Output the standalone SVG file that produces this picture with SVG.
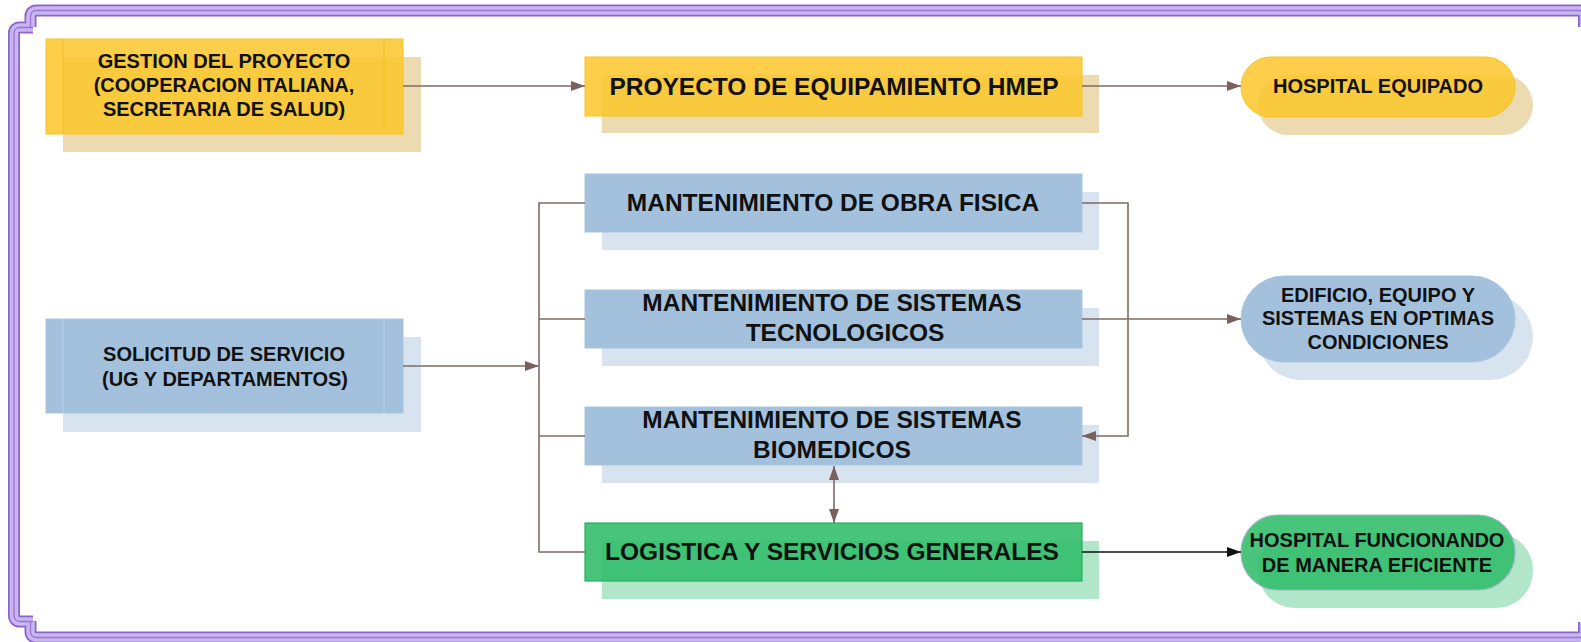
<svg xmlns="http://www.w3.org/2000/svg" width="1581" height="642" viewBox="0 0 1581 642">
<defs>
<marker id="ah" markerWidth="14" markerHeight="10" refX="14" refY="5" orient="auto-start-reverse" markerUnits="userSpaceOnUse">
<path d="M0,0 L14,5 L0,10 z" fill="#7a625c"/>
</marker>
<marker id="ahk" markerWidth="14" markerHeight="10" refX="14" refY="5" orient="auto" markerUnits="userSpaceOnUse">
<path d="M0,0 L14,5 L0,10 z" fill="#111111"/>
</marker>
<style>
.fb{fill:none;stroke:#8f63cf;stroke-width:12}
.fl{fill:none;stroke:#c8b6ee;stroke-width:8.5}
.fm{fill:none;stroke:#9a72d6;stroke-width:1.3}
.shY{fill:#ecdab0}
.shB{fill:#d7e3ee}
.shG{fill:#b1e6c9}
.bY{fill:#fbc52a;fill-opacity:0.85;stroke:#f7c21c;stroke-width:1}
.bB{fill:#a3c1dc;stroke:#a9c5de;stroke-width:1}
.bG{fill:#2fbd69;fill-opacity:0.88;stroke:#27b060;stroke-width:1.2}
.barY{stroke:#f5c12a;stroke-width:1.2}
.barB{stroke:#b6cee4;stroke-width:1.2}
.t{font-family:"Liberation Sans",Arial,sans-serif;font-weight:bold;fill:#111111;text-anchor:middle}
.s20{font-size:20px}
.s24{font-size:24.5px}
.c{fill:none;stroke:#7f6a65;stroke-width:1.6}
</style>
</defs>
<rect width="1581" height="642" fill="#ffffff"/>
<g id="frame">
<path class="fb" d="M1600,10.5 H36 A5.5,5.5 0 0 0 30.5,16 V27"/>
<path class="fb" d="M33,27.5 H19.5 A5.5,5.5 0 0 0 14,33 V616 A5.5,5.5 0 0 0 19.5,621.5 H33"/>
<path class="fb" d="M30.5,621 V632 A5.5,5.5 0 0 0 36,637.5 H1600"/>
<path class="fb" d="M1584,10 V27"/>
<path class="fb" d="M1584,622 V645"/>
<path class="fl" d="M1600,10.5 H36 A5.5,5.5 0 0 0 30.5,16 V27"/>
<path class="fl" d="M33,27.5 H19.5 A5.5,5.5 0 0 0 14,33 V616 A5.5,5.5 0 0 0 19.5,621.5 H33"/>
<path class="fl" d="M30.5,621 V632 A5.5,5.5 0 0 0 36,637.5 H1600"/>
<path class="fl" d="M1584,10 V27"/>
<path class="fl" d="M1584,622 V645"/>
<path class="fm" d="M1600,10.5 H36 A5.5,5.5 0 0 0 30.5,16 V27"/>
<path class="fm" d="M33,27.5 H19.5 A5.5,5.5 0 0 0 14,33 V616 A5.5,5.5 0 0 0 19.5,621.5 H33"/>
<path class="fm" d="M30.5,621 V632 A5.5,5.5 0 0 0 36,637.5 H1600"/>
</g>
<g id="gestion">
<rect class="shY" x="63" y="57" width="358" height="95"/>
<rect class="bY" x="46" y="39" width="357" height="95"/>
<line class="barY" x1="63" y1="39" x2="63" y2="134"/>
<line class="barY" x1="384" y1="39" x2="384" y2="134"/>
<text class="t s20" x="224" y="68">GESTION DEL PROYECTO</text>
<text class="t s20" x="224" y="92">(COOPERACION ITALIANA,</text>
<text class="t s20" x="224" y="116">SECRETARIA DE SALUD)</text>
</g>
<g id="proyecto">
<rect class="shY" x="602" y="75" width="497" height="58"/>
<rect class="bY" x="585" y="57" width="497" height="59"/>
<text class="t s24" x="834" y="95">PROYECTO DE EQUIPAMIENTO HMEP</text>
</g>
<g id="hospital-equipado">
<rect class="shY" x="1258" y="75" width="275" height="60" rx="30"/>
<rect class="bY" x="1241" y="57" width="274" height="60" rx="30"/>
<text class="t s20" x="1378" y="93">HOSPITAL EQUIPADO</text>
</g>
<g id="solicitud">
<rect class="shB" x="63" y="337" width="358" height="95"/>
<rect class="bB" x="46" y="319" width="357" height="94"/>
<line class="barB" x1="63" y1="319" x2="63" y2="413"/>
<line class="barB" x1="384" y1="319" x2="384" y2="413"/>
<text class="t s20" x="224" y="361">SOLICITUD DE SERVICIO</text>
<text class="t s20" x="225" y="386">(UG Y DEPARTAMENTOS)</text>
</g>
<g id="obra-fisica">
<rect class="shB" x="602" y="192" width="497" height="58"/>
<rect class="bB" x="585" y="174" width="497" height="58"/>
<text class="t s24" x="833" y="211">MANTENIMIENTO DE OBRA FISICA</text>
</g>
<g id="tecnologicos">
<rect class="shB" x="602" y="308" width="497" height="58"/>
<rect class="bB" x="585" y="290" width="497" height="58"/>
<text class="t s24" x="832" y="311">MANTENIMIENTO DE SISTEMAS</text>
<text class="t s24" x="845" y="341">TECNOLOGICOS</text>
</g>
<g id="biomedicos">
<rect class="shB" x="602" y="425" width="497" height="58"/>
<rect class="bB" x="585" y="407" width="497" height="58"/>
<text class="t s24" x="832" y="428">MANTENIMIENTO DE SISTEMAS</text>
<text class="t s24" x="832" y="458">BIOMEDICOS</text>
</g>
<g id="logistica">
<rect class="shG" x="602" y="541" width="497" height="58"/>
<rect class="bG" x="585" y="523" width="497" height="58"/>
<text class="t s24" x="832" y="560">LOGISTICA Y SERVICIOS GENERALES</text>
</g>
<g id="edificio">
<rect class="shB" x="1258" y="294" width="275" height="86" rx="43"/>
<rect class="bB" x="1241" y="276" width="274" height="86" rx="43"/>
<text class="t s20" x="1378" y="302">EDIFICIO, EQUIPO Y</text>
<text class="t s20" x="1378" y="325">SISTEMAS EN OPTIMAS</text>
<text class="t s20" x="1378" y="349">CONDICIONES</text>
</g>
<g id="hospital-funcionando">
<rect class="shG" x="1258" y="533" width="275" height="75" rx="37"/>
<rect class="bG" x="1241" y="515" width="274" height="75" rx="37" style="stroke:#9fb3c8"/>
<text class="t s20" x="1377" y="547">HOSPITAL FUNCIONANDO</text>
<text class="t s20" x="1377" y="572">DE MANERA EFICIENTE</text>
</g>
<g id="connectors">
<path class="c" d="M403,86 H585" marker-end="url(#ah)"/>
<path class="c" d="M1082,86 H1241" marker-end="url(#ah)"/>
<path class="c" d="M403,366 H539" marker-end="url(#ah)"/>
<path class="c" d="M585,203 H539 V552 H585"/>
<path class="c" d="M539,319 H585"/>
<path class="c" d="M539,436 H585"/>
<path class="c" d="M1082,203 H1128 V436 H1082" marker-end="url(#ah)"/>
<path class="c" d="M1082,319 H1241" marker-end="url(#ah)"/>
<path class="c" d="M834,466 V523" marker-start="url(#ah)" marker-end="url(#ah)"/>
<path fill="none" stroke="#111111" stroke-width="1.6" d="M1082,552 H1241" marker-end="url(#ahk)"/>
</g>
</svg>
